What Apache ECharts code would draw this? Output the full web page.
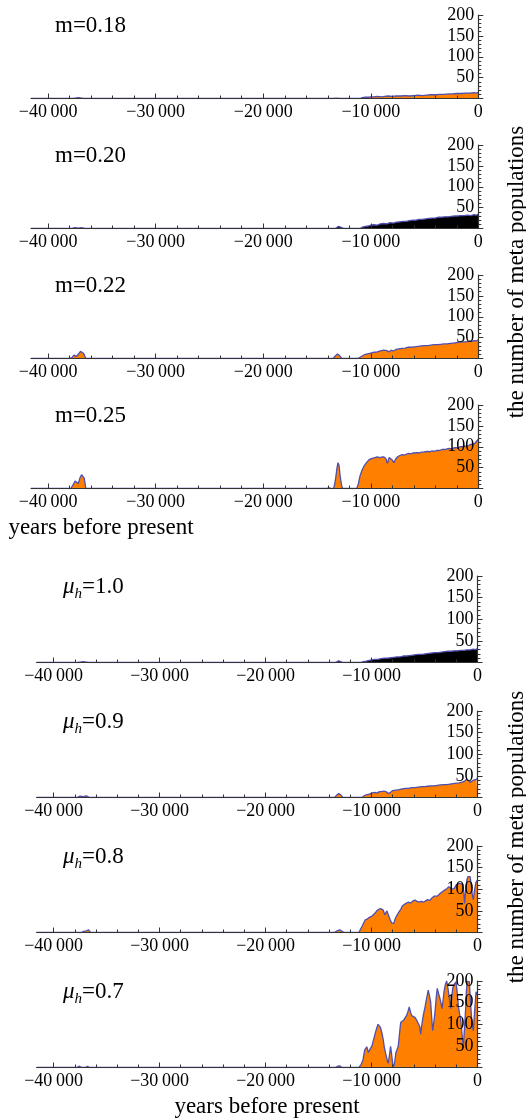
<!DOCTYPE html>
<html lang="en">
<head>
    <meta charset="UTF-8">
    <title>the number of meta populations</title>
    <script src="https://cdn.jsdelivr.net/npm/echarts@6/dist/echarts.min.js"></script>
    <style>
        html, body { margin: 0; padding: 0; background: #fff; }
        #chart { width: 526px; height: 1119px; }
    </style>
</head>
<body>
<div id="chart"></div>
<script>
    // axis values
    const xMin = -41600;
    const xMajor = [-40000, -30000, -20000, -10000, 0];
    const xMinor = [-40000, -38000, -36000, -34000, -32000, -30000, -28000, -26000, -24000, -22000,
        -20000, -18000, -16000, -14000, -12000, -10000, -8000, -6000, -4000, -2000, 0];
    const yTicks = [50, 100, 150, 200];

    // panel labels
    const mLabels = ['0.18', '0.20', '0.22', '0.25'];
    const muLabels = ['1.0', '0.9', '0.8', '0.7'];

    // [years before present, number of meta populations]
    const m018 = [[-41600,0],[-37700,0],[-37500,1],[-37200,2],[-36900,1],[-36600,0],[-13500,0],[-13200,1],[-12900,0],
        [-11000,0],[-10800,2],[-10500,3],[-10200,3],[-10000,4],[-9700,4],[-9400,5],[-9000,4],[-8700,5],[-8400,6],
        [-8000,5],[-7600,6],[-7200,6],[-6800,7],[-6400,6],[-6000,7],[-5600,8],[-5200,7],[-4800,8],[-4400,9],[-4000,9],
        [-3600,10],[-3200,10],[-2800,11],[-2400,11],[-2000,12],[-1600,12],[-1200,13],[-800,13],[-400,14],[-200,13],[0,15]];

    const m020 = [[-41600,0],[-37800,0],[-37500,2],[-37200,1],[-36900,2],[-36600,0],[-13300,0],[-13000,5],[-12700,2],[-12500,0],
        [-11000,0],[-10800,3],[-10500,5],[-10200,6],[-10000,8],[-9700,9],[-9400,8],[-9100,11],[-8800,12],[-8500,11],
        [-8200,14],[-7900,13],[-7600,15],[-7300,16],[-7000,17],[-6700,17],[-6400,19],[-6100,20],[-5800,20],[-5500,22],
        [-5200,22],[-4900,23],[-4600,24],[-4300,25],[-4000,25],[-3700,27],[-3400,27],[-3100,28],[-2800,28],[-2500,29],
        [-2200,30],[-1900,30],[-1600,31],[-1300,31],[-1000,32],[-700,31],[-400,33],[-200,32],[0,34]];

    const m022 = [[-41600,0],[-38000,0],[-37800,2],[-37600,8],[-37400,5],[-37200,10],[-37000,17],[-36850,19],[-36700,12],[-36500,0],
        [-13500,0],[-13300,6],[-13100,11],[-12900,7],[-12700,0],
        [-11200,0],[-11000,3],[-10800,6],[-10600,9],[-10300,11],[-10000,13],[-9700,15],[-9400,16],[-9100,18],[-8800,20],
        [-8500,19],[-8300,16],[-8100,20],[-7900,18],[-7700,21],[-7400,23],[-7100,24],[-6800,25],[-6500,27],[-6200,27],
        [-5900,28],[-5600,29],[-5300,30],[-5000,31],[-4700,31],[-4400,32],[-4100,33],[-3800,33],[-3500,34],[-3200,35],
        [-2900,35],[-2600,36],[-2300,37],[-2000,38],[-1700,39],[-1400,40],[-1100,40],[-800,42],[-600,41],[-400,43],[-200,42],[0,45]];

    const m025 = [[-41600,0],[-37900,0],[-37700,8],[-37500,18],[-37350,15],[-37200,12],[-37050,25],[-36900,33],[-36750,32],[-36650,25],[-36500,0],
        [-14100,0],[-13900,2],[-13700,0],[-13450,0],[-13300,18],[-13150,48],[-13050,62],[-12950,55],[-12850,30],[-12700,5],[-12600,0],
        [-11300,0],[-11150,12],[-11000,30],[-10800,45],[-10600,55],[-10400,62],[-10200,68],[-10000,71],[-9800,73],[-9600,74],
        [-9400,76],[-9200,74],[-9000,75],[-8800,76],[-8600,72],[-8450,60],[-8300,74],[-8150,76],[-8000,68],[-7850,62],
        [-7700,70],[-7500,76],[-7300,79],[-7100,81],[-6900,80],[-6700,82],[-6500,84],[-6300,83],[-6100,85],[-5900,85],
        [-5700,86],[-5500,85],[-5300,87],[-5100,87],[-4900,88],[-4700,89],[-4500,88],[-4300,90],[-4100,89],[-3900,91],
        [-3700,91],[-3500,92],[-3300,94],[-3100,93],[-2900,95],[-2700,96],[-2500,95],[-2300,97],[-2100,98],[-1900,97],
        [-1700,100],[-1500,100],[-1300,102],[-1100,101],[-900,103],[-700,106],[-500,105],[-300,109],[-150,112],[0,118]];

    const mu10 = [[-41600,0],[-37800,0],[-37500,1],[-37200,2],[-36900,1],[-36600,0],[-13400,0],[-13100,4],[-12800,1],[-12600,0],
        [-11000,0],[-10800,2],[-10500,3],[-10200,5],[-10000,6],[-9700,7],[-9400,7],[-9100,9],[-8800,10],[-8500,10],
        [-8200,11],[-7900,12],[-7600,13],[-7300,13],[-7000,15],[-6700,15],[-6400,16],[-6100,17],[-5800,18],[-5500,19],
        [-5200,19],[-4900,20],[-4600,21],[-4300,22],[-4000,23],[-3700,23],[-3400,24],[-3100,25],[-2800,26],[-2500,26],
        [-2200,27],[-1900,27],[-1600,28],[-1300,28],[-1000,29],[-700,29],[-400,31],[-200,30],[0,32]];

    const mu09 = [[-41600,0],[-37800,0],[-37500,3],[-37200,2],[-36900,4],[-36600,0],[-13500,0],[-13300,5],[-13100,9],[-12900,6],[-12700,0],
        [-10900,0],[-10700,4],[-10500,6],[-10200,8],[-10000,10],[-9700,12],[-9500,10],[-9300,13],[-9000,14],[-8800,15],
        [-8600,13],[-8400,9],[-8200,12],[-8000,16],[-7700,17],[-7400,18],[-7100,20],[-6800,21],[-6500,21],[-6200,23],
        [-5900,23],[-5600,24],[-5300,25],[-5000,25],[-4700,26],[-4400,27],[-4100,27],[-3800,28],[-3500,29],[-3200,30],
        [-2900,30],[-2600,31],[-2300,32],[-2000,33],[-1700,34],[-1400,36],[-1200,38],[-1000,43],[-850,40],[-700,35],
        [-550,34],[-400,40],[-250,38],[-100,42],[0,45]];

    const mu08 = [[-41600,0],[-37400,0],[-37100,3],[-36900,4],[-36700,6],[-36500,0],[-13500,0],[-13250,4],[-13000,6],[-12750,2],[-12500,0],
        [-11200,0],[-10900,14],[-10600,29],[-10400,31],[-10200,35],[-9950,38],[-9700,44],[-9500,50],[-9300,54],[-9100,55],
        [-8900,52],[-8750,41],[-8550,50],[-8400,53],[-8250,30],[-8100,22],[-7900,21],[-7750,33],[-7550,42],[-7400,48],
        [-7250,53],[-7100,61],[-6900,65],[-6700,68],[-6500,70],[-6300,68],[-6100,73],[-5900,75],[-5700,72],[-5500,70],
        [-5300,72],[-5100,70],[-4900,73],[-4700,76],[-4500,74],[-4300,80],[-4100,84],[-3950,87],[-3800,84],[-3650,83],
        [-3450,92],[-3300,94],[-3100,98],[-2900,101],[-2700,106],[-2550,104],[-2400,100],[-2200,102],[-2000,110],[-1850,113],
        [-1700,114],[-1550,116],[-1400,111],[-1300,95],[-1220,67],[-1120,95],[-1000,122],[-900,129],[-800,128],[-700,129],
        [-600,112],[-480,85],[-400,76],[-300,95],[-150,116],[0,121]];

    const mu07 = [[-41600,0],[-37800,0],[-37600,3],[-37400,1],[-37200,0],[-37000,0],[-36800,3],[-36600,0],[-13400,0],[-13200,3],[-13000,4],[-12800,0],
        [-11200,0],[-11000,6],[-10800,18],[-10650,40],[-10450,48],[-10300,35],[-10150,38],[-9960,50],[-9800,65],[-9640,80],
        [-9500,92],[-9380,100],[-9250,96],[-9150,92],[-9000,78],[-8900,65],[-8780,45],[-8640,30],[-8500,15],[-8420,10],
        [-8300,30],[-8200,49],[-8100,30],[-8010,10],[-7890,2],[-7800,15],[-7700,34],[-7580,42],[-7480,49],[-7350,80],
        [-7250,104],[-7100,106],[-6950,110],[-6850,112],[-6700,120],[-6550,130],[-6440,140],[-6320,128],[-6210,120],[-6050,118],
        [-5900,116],[-5750,110],[-5590,112],[-5450,95],[-5360,77],[-5250,100],[-5120,120],[-4950,140],[-4800,160],[-4650,179],
        [-4550,168],[-4420,151],[-4320,115],[-4230,85],[-4120,105],[-4010,128],[-3900,160],[-3800,183],[-3680,172],[-3540,159],
        [-3450,150],[-3350,136],[-3250,155],[-3160,175],[-3050,190],[-2910,200],[-2800,185],[-2690,167],[-2600,150],[-2530,136],
        [-2430,160],[-2340,183],[-2200,192],[-2030,198],[-1920,175],[-1810,143],[-1700,125],[-1590,112],[-1470,80],[-1340,45],
        [-1230,90],[-1120,136],[-1050,175],[-970,200],[-870,199],[-770,198],[-660,150],[-550,112],[-470,95],[-400,85],
        [-270,130],[-140,175],[0,167]];

    const panelData = [m018, m020, m022, m025, mu10, mu09, mu08, mu07];
    const ORANGE = '#ff8000';
    const fills = [ORANGE, '#000000', ORANGE, ORANGE, '#000000', ORANGE, ORANGE, ORANGE];

    // layout: top of each plot (the 200 line)
    const tops = [15, 145, 275, 405, 576, 711, 846, 981];
    const FONT = '"Liberation Serif", "Times New Roman", serif';

    const grids = [], xAxes = [], yAxes = [], series = [], titles = [];

    panelData.forEach(function (data, i) {
        const lower = i >= 4;
        const left = lower ? 36.6 : 31;
        const rightEdge = lower ? 477.5 : 478.3;
        const height = lower ? 86.5 : 83.5;
        grids.push({ left: left, width: rightEdge - left, top: tops[i], height: height });

        const axisColor = '#333';
        // major ticks + labels
        xAxes.push({
            type: 'value', gridIndex: i, min: xMin, max: 0, position: 'bottom', z: 5,
            axisLine: { show: true, onZero: false, lineStyle: { color: axisColor, width: 1.2 } },
            axisTick: { show: true, inside: true, length: 5, customValues: xMajor, lineStyle: { color: axisColor } },
            axisLabel: {
                customValues: xMajor, color: '#000', fontFamily: FONT, fontSize: 18, margin: 5,
                formatter: function (v) { return v === 0 ? '0' : '\u2212' + Math.abs(v / 1000) + '\u2009000'; }
            },
            splitLine: { show: false }
        });
        // minor ticks
        xAxes.push({
            type: 'value', gridIndex: i, min: xMin, max: 0, position: 'bottom', z: 5,
            axisLine: { show: false },
            axisTick: { show: true, inside: true, length: 3, customValues: xMinor, lineStyle: { color: axisColor } },
            axisLabel: { show: false },
            splitLine: { show: false }
        });
        yAxes.push({
            type: 'value', gridIndex: i, min: 0, max: 200, interval: 50, position: 'right', z: 5,
            axisLine: { show: true, onZero: false, lineStyle: { color: axisColor, width: 1.2 } },
            axisTick: { show: true, inside: false, length: 5, lineStyle: { color: axisColor } },
            minorTick: { show: true, splitNumber: 5, length: 3, lineStyle: { color: axisColor } },
            axisLabel: {
                inside: true, customValues: yTicks, color: '#000', fontFamily: FONT, fontSize: 18, margin: 4
            },
            splitLine: { show: false }, minorSplitLine: { show: false }
        });
        series.push({
            type: 'line', xAxisIndex: i * 2, yAxisIndex: i, data: data,
            showSymbol: false, symbol: 'none', animation: false, z: 2,
            lineStyle: { color: '#4f4fb0', width: 1.3 },
            areaStyle: { color: fills[i], opacity: 1 }
        });

        const label = lower
            ? '{i|\u03bc}{s|h}{n|=' + muLabels[i - 4] + '}'
            : '{n|m=' + mLabels[i] + '}';
        titles.push({
            text: label, left: lower ? 63 : 55, top: tops[i] - 1, padding: 0,
            textStyle: {
                fontFamily: FONT, fontSize: 23, color: '#000', fontWeight: 'normal',
                rich: {
                    n: { fontFamily: FONT, fontSize: 23, color: '#000', verticalAlign: 'bottom', padding: [0, 0, 4, 0] },
                    i: { fontFamily: FONT, fontSize: 23, fontStyle: 'italic', color: '#000', verticalAlign: 'bottom', padding: [0, 0, 4, 0] },
                    s: { fontFamily: FONT, fontSize: 15, fontStyle: 'italic', color: '#000', verticalAlign: 'bottom' }
                }
            }
        });
    });

    const chart = echarts.init(document.getElementById('chart'), null, { renderer: 'canvas' });
    chart.setOption({
        backgroundColor: '#fff',
        animation: false,
        title: titles,
        grid: grids,
        xAxis: xAxes,
        yAxis: yAxes,
        series: series,
        graphic: [
            { type: 'text', x: 101, y: 528, style: { text: 'years before present', font: '23px ' + FONT, fill: '#000', align: 'center', verticalAlign: 'middle' } },
            { type: 'text', x: 267, y: 1107, style: { text: 'years before present', font: '23px ' + FONT, fill: '#000', align: 'center', verticalAlign: 'middle' } },
            { type: 'text', x: 517, y: 272, rotation: Math.PI / 2, style: { text: 'the number of meta populations', font: '23px ' + FONT, fill: '#000', align: 'center', verticalAlign: 'middle' } },
            { type: 'text', x: 517, y: 837, rotation: Math.PI / 2, style: { text: 'the number of meta populations', font: '23px ' + FONT, fill: '#000', align: 'center', verticalAlign: 'middle' } }
        ]
    });
</script>
</body>
</html>
